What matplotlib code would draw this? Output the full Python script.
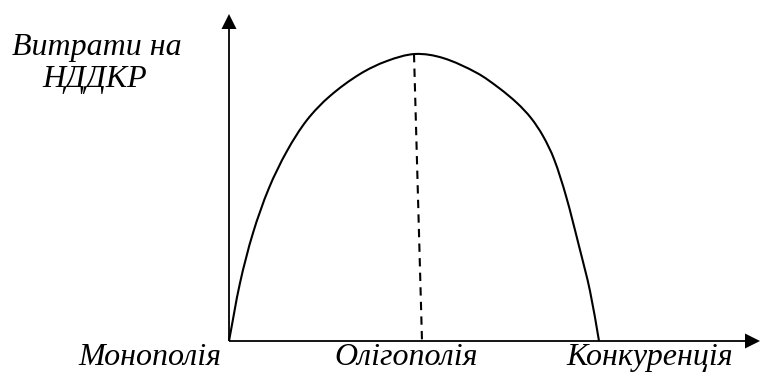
import numpy as np
import matplotlib.pyplot as plt
from matplotlib.path import Path
from matplotlib.patches import PathPatch

# Curve (x: market structure, y: R&D spending)
curve_x = [0, 11, 24, 40, 58, 78, 101, 131, 158, 186, 214, 248, 270, 288, 302, 314, 325, 337, 350, 361, 370]
curve_y = [0, 58, 108, 153, 190, 221, 245, 267, 280, 287, 283, 268, 253, 238, 223, 205, 182, 145, 95, 50, 0]

# Dashed line from the peak down to the axis
peak_x = [185, 193]
peak_y = [287, 0]

y_label = ["Витрати на", "НДДКР"]
x_labels = ["Монополія", "Олігополія", "Конкуренція"]
x_label_pos = [-79, 177, 421]


def smooth_path(xs, ys):
    # cubic bezier through the points, tangents scaled by chord length
    pts = np.column_stack([xs, ys]).astype(float)
    n = len(pts)
    tang = np.zeros_like(pts)
    for i in range(n):
        a = pts[max(i - 1, 0)]
        b = pts[min(i + 1, n - 1)]
        d = b - a
        tang[i] = d / np.hypot(*d)
    verts = [pts[0]]
    codes = [Path.MOVETO]
    for i in range(n - 1):
        L = np.hypot(*(pts[i + 1] - pts[i])) / 3
        verts += [pts[i] + tang[i] * L, pts[i + 1] - tang[i + 1] * L, pts[i + 1]]
        codes += [Path.CURVE4] * 3
    return Path(verts, codes)


fig = plt.figure(figsize=(7.62, 3.73), dpi=100)
ax = fig.add_axes([0, 0, 1, 1])
ax.set_xlim(-229, 533)
ax.set_ylim(-32, 341)
ax.axis('off')

# axes with arrows
ax.arrow(0, 0, 0, 327, width=1.8, head_width=15, head_length=15,
         length_includes_head=True, fc='k', ec='k', lw=0)
ax.arrow(0, 0, 531, 0, width=1.8, head_width=15, head_length=15,
         length_includes_head=True, fc='k', ec='k', lw=0)

ax.add_patch(PathPatch(smooth_path(curve_x, curve_y), fill=False, ec='k', lw=1.5))
ax.plot(peak_x, peak_y, color='k', lw=1.5, linestyle=(0, (4, 3)))

font = dict(family='Liberation Serif', style='italic', size=23)
ax.text(-132, 286, y_label[0], ha='center', va='baseline', **font)
ax.text(-134, 254, y_label[1], ha='center', va='baseline', **font)
for lbl, xp in zip(x_labels, x_label_pos):
    ax.text(xp, -24, lbl, ha='center', va='baseline', **font)

fig.savefig('out.png', dpi=100)
